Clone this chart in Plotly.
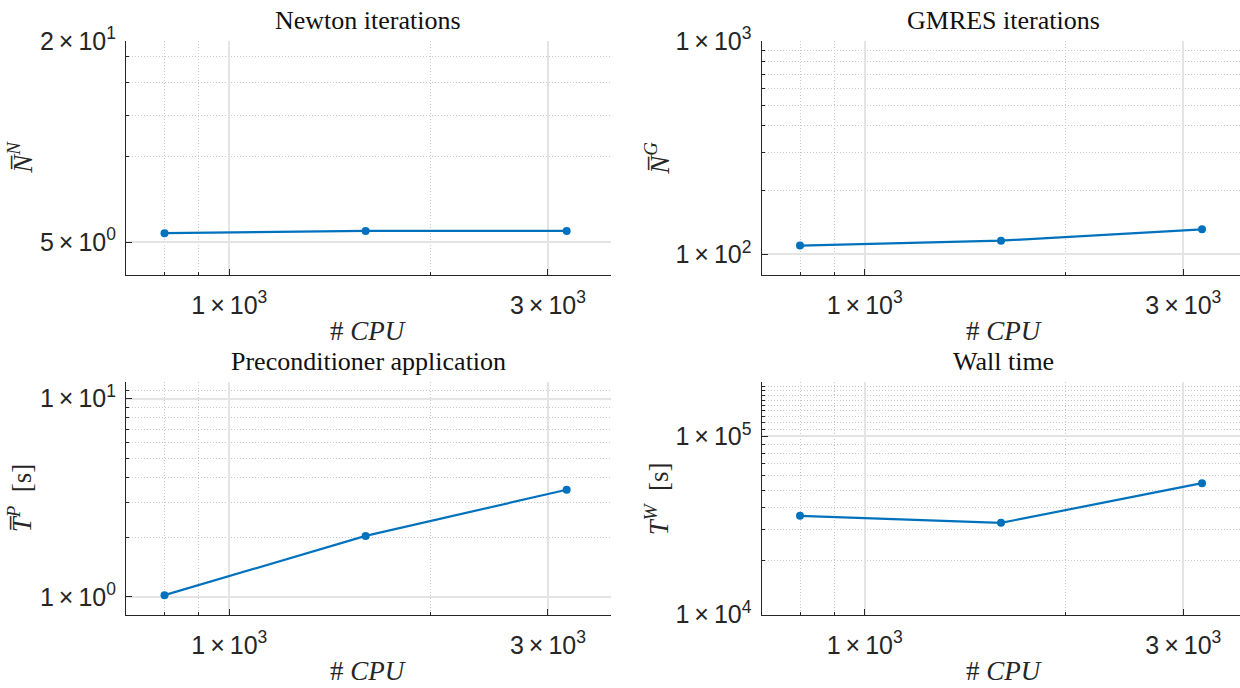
import math
import plotly.graph_objects as go

# ---------------- data ----------------
cpus = [800, 1600, 3200]
newton_its = [5.32, 5.40, 5.40]
gmres_its = [110, 116, 131]
precond_time = [1.02, 2.03, 3.47]
wall_time = [35800, 32700, 54600]

titles = ["Newton iterations", "GMRES iterations",
          "Preconditioner application", "Wall time"]
ylabels = ["<i>N\u0305</i><sup><i>N</i></sup>",
           "<i>N\u0305</i><sup><i>G</i></sup>",
           "<i>T\u0305</i><sup><i>P</i></sup>  [s]",
           "<i>T</i><sup><i>W</i></sup>  [s]"]
xlabel = "# <i>CPU</i>"

TIMES = "\u2009\u00d7\u2009"
x_major = [1000, 3000]
x_major_text = ["1" + TIMES + "10<sup>3</sup>", "3" + TIMES + "10<sup>3</sup>"]
x_minor = [700, 800, 900, 2000]

y_major = [[5, 20], [100, 1000], [1, 10], [1e4, 1e5]]
y_major_text = [["5" + TIMES + "10<sup>0</sup>", "2" + TIMES + "10<sup>1</sup>"],
                ["1" + TIMES + "10<sup>2</sup>", "1" + TIMES + "10<sup>3</sup>"],
                ["1" + TIMES + "10<sup>0</sup>", "1" + TIMES + "10<sup>1</sup>"],
                ["1" + TIMES + "10<sup>4</sup>", "1" + TIMES + "10<sup>5</sup>"]]
y_minor = [[9, 12, 15, 18],
           [200, 300, 400, 500, 600, 700, 800, 900],
           [2, 3, 4, 5, 6, 7, 8, 9, 11, 12],
           [2e4, 3e4, 4e4, 5e4, 6e4, 7e4, 8e4, 9e4,
            1.1e5, 1.2e5, 1.3e5, 1.4e5, 1.5e5, 1.6e5, 1.7e5, 1.8e5, 1.9e5, 2e5]]
y_ranges = [[4.0, 20.0], [80.5, 1000.0], [0.815, 12.13], [1e4, 2.02e5]]
x_ranges = [[700.5, 3722.0], [700.5, 3648.0], [700.5, 3722.0], [700.5, 3648.0]]

series = [newton_its, gmres_its, precond_time, wall_time]

# ---------------- layout geometry (pixels) ----------------
W, H = 1240, 688
boxes = [  # left, right, top, bottom in px
    (126, 610.5, 41, 274.5),
    (761.5, 1240, 41, 274.5),
    (126, 610.5, 382, 614.5),
    (761.5, 1240, 382, 614.5),
]

BLUE = "#0072BD"
AXC = "#262626"
GRID = "#e4e4e4"
MGRID = "#c8c8c8"
tick_font = dict(family="Liberation Sans, Arial, sans-serif", size=25, color="#262626")
serif = "Liberation Serif, Times New Roman, serif"

fig = go.Figure()
layout = dict(width=W, height=H, margin=dict(l=0, r=0, t=0, b=0, pad=0),
              template="none", autosize=False,
              paper_bgcolor="white", plot_bgcolor="white", showlegend=False)
annotations = []

for i in range(4):
    xa = "x" if i == 0 else f"x{i+1}"
    ya = "y" if i == 0 else f"y{i+1}"
    fig.add_trace(go.Scatter(x=cpus, y=series[i], mode="lines+markers",
                             line=dict(color=BLUE, width=2.2),
                             marker=dict(color=BLUE, size=8),
                             xaxis=xa, yaxis=ya, hoverinfo="x+y"))
    l, r, t, b = boxes[i]
    xd = [l / W, r / W]
    yd = [1 - b / H, 1 - t / H]
    common = dict(type="log", showline=True, linecolor=AXC, linewidth=1,
                  ticks="inside", ticklen=6, tickwidth=1, tickcolor=AXC,
                  showgrid=True, gridcolor=GRID, gridwidth=1.5,
                  tickfont=tick_font, zeroline=False, mirror=False,
                  automargin=False)
    layout["xaxis" if i == 0 else f"xaxis{i+1}"] = dict(
        common, domain=xd, anchor=ya,
        range=[math.log10(x_ranges[i][0]), math.log10(x_ranges[i][1])],
        tickmode="array", tickvals=x_major, ticktext=x_major_text,
        ticklabelstandoff=8,
        minor=dict(tickmode="array", tickvals=x_minor, showgrid=True,
                   gridcolor=MGRID, griddash="1px,2px", gridwidth=1,
                   ticks="inside", ticklen=3, tickcolor=AXC))
    layout["yaxis" if i == 0 else f"yaxis{i+1}"] = dict(
        common, domain=yd, anchor=xa,
        range=[math.log10(y_ranges[i][0]), math.log10(y_ranges[i][1])],
        tickmode="array", tickvals=y_major[i], ticktext=y_major_text[i],
        ticklabelstandoff=4,
        minor=dict(tickmode="array", tickvals=y_minor[i], showgrid=True,
                   gridcolor=MGRID, griddash="1px,2px", gridwidth=1,
                   ticks="inside", ticklen=3, tickcolor=AXC))
    title_cx = (l + l + 484.5) / 2
    annotations.append(dict(text=titles[i], xref="paper", yref="paper",
                            x=title_cx / W, y=1 - (t - 21) / H, showarrow=False,
                            xanchor="center", yanchor="middle",
                            font=dict(family=serif, size=26, color="#111111")))
    annotations.append(dict(text=xlabel, xref="paper", yref="paper",
                            x=title_cx / W, y=1 - (b + 56) / H, showarrow=False,
                            xanchor="center", yanchor="middle",
                            font=dict(family=serif, size=27, color="#262626")))
    ylx = 20 if i % 2 == 0 else 657
    annotations.append(dict(text=ylabels[i], xref="paper", yref="paper",
                            x=ylx / W, y=1 - ((t + b) / 2) / H, showarrow=False,
                            textangle=-90, xanchor="center", yanchor="middle",
                            font=dict(family=serif, size=27, color="#262626")))

layout["annotations"] = annotations
fig.update_layout(**layout)
fig.write_html("out.html")
